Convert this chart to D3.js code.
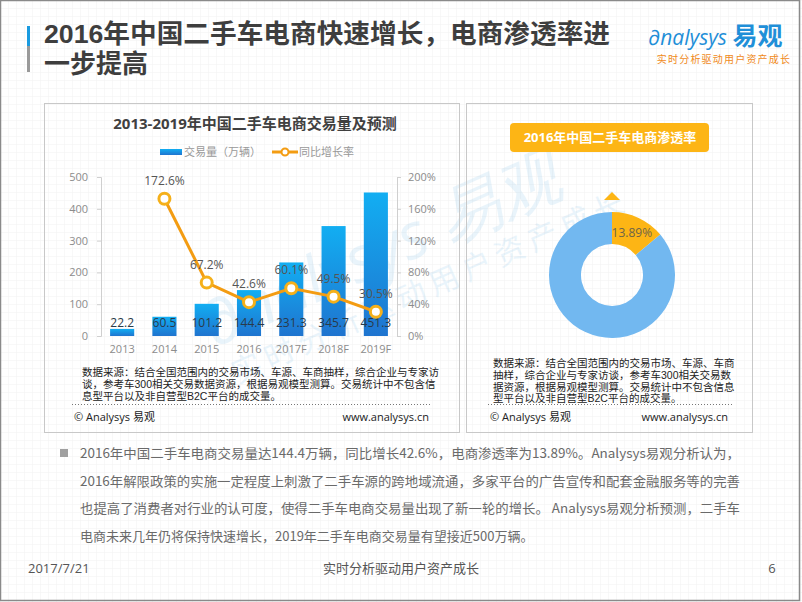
<!DOCTYPE html>
<html><head><meta charset="utf-8">
<script src="https://cdn.jsdelivr.net/npm/d3@7/dist/d3.min.js"></script>
<style>
html,body{margin:0;padding:0;background:#fff;}
svg{display:block;font-family:"Open Sans","Noto Sans CJK SC",sans-serif;}
</style></head>
<body>
<svg id="c" width="802" height="602"></svg>
<script>
// ---- data ----
const years = ["2013","2014","2015","2016","2017F","2018F","2019F"];
const volume = [22.2, 60.5, 101.2, 144.4, 231.3, 345.7, 451.3];
const growth = [null, 172.6, 67.2, 42.6, 60.1, 49.5, 30.5];
const leftTicks = [0,100,200,300,400,500];
const rightTicks = [0,40,80,120,160,200];
const shareLabels = ["电商","其他"];
const shareValues = [13.89, 86.11];
const titleLines = ["2016年中国二手车电商快速增长，电商渗透率进","一步提高"];
const sourceLeft = ["数据来源：结合全国范围内的交易市场、车源、车商抽样，综合企业与专家访","谈，参考车300相关交易数据资源，根据易观模型测算。交易统计中不包含信","息型平台以及非自营型B2C平台的成交量。"];
const sourceRight = ["数据来源：结合全国范围内的交易市场、车源、车商","抽样，综合企业与专家访谈，参考车300相关交易数","据资源，根据易观模型测算。交易统计中不包含信息","型平台以及非自营型B2C平台的成交量。"];
const bodyLines = ["2016年中国二手车电商交易量达144.4万辆，同比增长42.6%，电商渗透率为13.89%。Analysys易观分析认为，","2016年解限政策的实施一定程度上刺激了二手车源的跨地域流通，多家平台的广告宣传和配套金融服务等的完善","也提高了消费者对行业的认可度，使得二手车电商交易量出现了新一轮的增长。 Analysys易观分析预测，二手车","电商未来几年仍将保持快速增长，2019年二手车电商交易量有望接近500万辆。"];

const svg = d3.select("#c");
const defs = svg.append("defs");
const pat = defs.append("pattern").attr("id","grid").attr("width",8).attr("height",8).attr("patternUnits","userSpaceOnUse");
pat.append("path").attr("d","M8 0 L0 0 0 8").attr("fill","none").attr("stroke","#f1f1f1").attr("stroke-width",1);
const grad = defs.append("linearGradient").attr("id","barg").attr("x1",0).attr("y1",0).attr("x2",0).attr("y2",1);
grad.append("stop").attr("offset","0%").attr("stop-color","#12aef2");
grad.append("stop").attr("offset","100%").attr("stop-color","#1f74cf");

svg.append("rect").attr("width",802).attr("height",602).attr("fill","#fff");
svg.append("rect").attr("width",802).attr("height",602).attr("fill","url(#grid)");
svg.append("rect").attr("x",0.5).attr("y",0.5).attr("width",799).attr("height",600).attr("fill","none").attr("stroke","#8a8a8a").attr("stroke-width",1.5);

const CJK = "'Liberation Sans','Noto Sans CJK SC',sans-serif";

// header
svg.append("rect").attr("x",27).attr("y",26).attr("width",3).attr("height",20).attr("fill","#1a9be0");
svg.append("rect").attr("x",27).attr("y",46).attr("width",3).attr("height",26).attr("fill","#9a9a9a");
svg.append("g").selectAll("text").data(titleLines).join("text")
  .attr("x",44).attr("y",(d,i)=>43+i*30).attr("font-size",26).attr("font-weight","bold").attr("fill","#3e3e3e")
  .attr("font-family",CJK).attr("textLength",(d,i)=>i===0?566:null).attr("lengthAdjust","spacingAndGlyphs").text(d=>d);
const logo = svg.append("text").attr("x",648).attr("y",45).attr("fill","#1f8fd8");
logo.append("tspan").attr("font-size",21).attr("font-style","italic").attr("font-family","'Open Sans',sans-serif").text("∂nalysys ");
logo.append("tspan").attr("font-size",25).attr("font-weight","bold").attr("font-family","'Noto Sans CJK SC',sans-serif").text("易观");
svg.append("text").attr("x",724).attr("y",63).attr("text-anchor","middle").attr("font-size",10).attr("fill","#f08a1a")
  .attr("letter-spacing",1.2).attr("font-family",CJK).text("实时分析驱动用户资产成长");

// watermark
const wm = svg.append("g").attr("transform","translate(390,270) rotate(-24)").attr("opacity",0.09).attr("fill","#1a8fd8");
wm.append("text").attr("x",0).attr("y",0).attr("text-anchor","middle").attr("font-size",64).attr("font-style","italic").attr("font-family","'Open Sans',sans-serif").text("∂nalysys 易观");
wm.append("text").attr("x",30).attr("y",42).attr("text-anchor","middle").attr("font-size",30).attr("font-family",CJK).attr("letter-spacing",6).text("实时分析驱动用户资产成长");

// panels
svg.append("rect").attr("x",44.5).attr("y",103.5).attr("width",415).attr("height",329).attr("fill","none").attr("stroke","#c8c8c8");
svg.append("rect").attr("x",466.5).attr("y",103.5).attr("width",286).attr("height",329).attr("fill","none").attr("stroke","#c8c8c8");

// ---- left chart ----
const x = d3.scaleBand().domain(years).range([101,397]).paddingInner(0.43).paddingOuter(0.215);
const yL = d3.scaleLinear().domain([0,500]).range([336,177]);
const yR = d3.scaleLinear().domain([0,200]).range([336,177]);

svg.append("text").attr("x",255).attr("y",129).attr("text-anchor","middle").attr("font-size",15).attr("font-weight","bold").attr("fill","#404040")
  .text("2013-2019年中国二手车电商交易量及预测");

// legend
svg.append("rect").attr("x",160).attr("y",149).attr("width",22).attr("height",6).attr("fill","url(#barg)");
svg.append("text").attr("x",184).attr("y",156).attr("font-size",11).attr("fill","#999").text("交易量（万辆）");
svg.append("line").attr("x1",272).attr("x2",298).attr("y1",152).attr("y2",152).attr("stroke","#f39c12").attr("stroke-width",3);
svg.append("circle").attr("cx",285).attr("cy",152).attr("r",3.5).attr("fill","#fff").attr("stroke","#f39c12").attr("stroke-width",2);
svg.append("text").attr("x",299).attr("y",156).attr("font-size",11).attr("fill","#999").text("同比增长率");

const axL = svg.append("g").attr("transform","translate(101,0)")
  .call(d3.axisLeft(yL).tickValues(leftTicks).tickSize(4).tickPadding(9));
const axR = svg.append("g").attr("transform","translate(397,0)")
  .call(d3.axisRight(yR).tickValues(rightTicks).tickSize(4).tickPadding(7).tickFormat(d=>d+"%"));
[axL,axR].forEach(a=>{
  a.select(".domain").attr("stroke","#cfcfcf");
  a.selectAll(".tick line").attr("stroke","#cfcfcf");
  a.selectAll(".tick text").attr("fill","#8c8c8c").attr("font-size",11).attr("font-family","'Open Sans',sans-serif");
});
const axX = svg.append("g").attr("transform","translate(0,336)").call(d3.axisBottom(x).tickSize(0).tickPadding(9));
axX.select(".domain").remove();
axX.selectAll(".tick text").attr("fill","#8c8c8c").attr("font-size",11).attr("font-family","'Open Sans',sans-serif");

svg.append("g").selectAll("rect").data(years).join("rect")
  .attr("x",d=>x(d)).attr("width",x.bandwidth())
  .attr("y",(d,i)=>yL(volume[i])).attr("height",(d,i)=>yL(0)-yL(volume[i]))
  .attr("fill","url(#barg)");
svg.append("g").selectAll("text").data(years).join("text")
  .attr("x",d=>x(d)+x.bandwidth()/2).attr("y",yL(0)-9)
  .attr("text-anchor","middle").attr("font-size",12).attr("fill","#2a3a4a")
  .text((d,i)=>volume[i].toFixed(1));

const pts = years.map((d,i)=>({d,v:growth[i]})).filter(p=>p.v!==null);
const line = d3.line().x(p=>x(p.d)+x.bandwidth()/2).y(p=>yR(p.v));
svg.append("path").datum(pts).attr("d",line).attr("fill","none").attr("stroke","#f39c12").attr("stroke-width",3);
svg.append("g").selectAll("circle").data(pts).join("circle")
  .attr("cx",p=>x(p.d)+x.bandwidth()/2).attr("cy",p=>yR(p.v)).attr("r",5.5)
  .attr("fill","#fff").attr("stroke","#f5b01a").attr("stroke-width",3);
svg.append("g").selectAll("text").data(pts).join("text")
  .attr("x",p=>x(p.d)+x.bandwidth()/2).attr("y",p=>yR(p.v)-14)
  .attr("text-anchor","middle").attr("font-size",12).attr("fill","#555")
  .text(p=>p.v.toFixed(1)+"%");

function block(lines, x0, y0, lh, fs){
  svg.append("g").selectAll("text").data(lines).join("text")
    .attr("x",x0).attr("y",(d,i)=>y0+i*lh).attr("font-size",fs).attr("fill","#222")
    .attr("font-family",CJK).text(d=>d);
}
block(sourceLeft, 82, 376, 12, 10.5);
svg.append("line").attr("x1",72).attr("x2",430).attr("y1",404.5).attr("y2",404.5).attr("stroke","#777").attr("stroke-dasharray","1,2");
svg.append("text").attr("x",74).attr("y",421).attr("font-size",11).attr("fill","#222").text("© Analysys 易观");
svg.append("text").attr("x",429).attr("y",421).attr("text-anchor","end").attr("font-size",11).attr("fill","#222").text("www.analysys.cn");

// ---- right donut ----
svg.append("rect").attr("x",510).attr("y",123).attr("width",199).attr("height",29).attr("rx",4).attr("fill","#fdb515");
svg.append("text").attr("x",610).attr("y",142).attr("text-anchor","middle").attr("font-size",13).attr("font-weight","bold").attr("fill","#fff")
  .text("2016年中国二手车电商渗透率");
const cx = 612, cy = 275;
svg.append("path").attr("d",`M${cx-8},200 L${cx+8},200 L${cx},192 Z`).attr("fill","#fdb515");
const pie = d3.pie().sort(null).value(d=>d);
const arc = d3.arc().innerRadius(31).outerRadius(63);
const arcs = pie(shareValues);
const colors = ["#fdb515","#72b8f0"];
const dg = svg.append("g").attr("transform",`translate(${cx},${cy})`);
dg.selectAll("path").data(arcs).join("path").attr("d",arc).attr("fill",(d,i)=>colors[i]);
dg.append("text").attr("x",arc.centroid(arcs[0])[0]).attr("y",arc.centroid(arcs[0])[1]+5)
  .attr("text-anchor","middle").attr("font-size",12).attr("fill","#6e6448").text(shareValues[0].toFixed(2)+"%");

block(sourceRight, 493, 367, 11.8, 10.5);
svg.append("line").attr("x1",488).attr("x2",732).attr("y1",404.5).attr("y2",404.5).attr("stroke","#777").attr("stroke-dasharray","1,2");
svg.append("text").attr("x",490).attr("y",421).attr("font-size",11).attr("fill","#222").text("© Analysys 易观");
svg.append("text").attr("x",728).attr("y",421).attr("text-anchor","end").attr("font-size",11).attr("fill","#222").text("www.analysys.cn");

// body text
svg.append("rect").attr("x",60).attr("y",449).attr("width",8).attr("height",8).attr("fill","#a0a0a0");
svg.append("g").selectAll("text").data(bodyLines).join("text")
  .attr("x",80).attr("y",(d,i)=>458+i*27.5).attr("font-size",13).attr("fill","#6a6a6a")
  .attr("font-family","'Noto Sans CJK SC',sans-serif")
  .attr("textLength",(d,i)=>i<3?660:null).attr("lengthAdjust","spacingAndGlyphs").text(d=>d);

// footer
svg.append("text").attr("x",28).attr("y",573).attr("font-size",13).attr("fill","#555").text("2017/7/21");
svg.append("text").attr("x",401).attr("y",573).attr("text-anchor","middle").attr("font-size",13).attr("fill","#555")
  .attr("font-family","'Noto Sans CJK SC',sans-serif").text("实时分析驱动用户资产成长");
svg.append("text").attr("x",772).attr("y",573).attr("text-anchor","middle").attr("font-size",13).attr("fill","#555").text("6");
</script>
</body></html>
